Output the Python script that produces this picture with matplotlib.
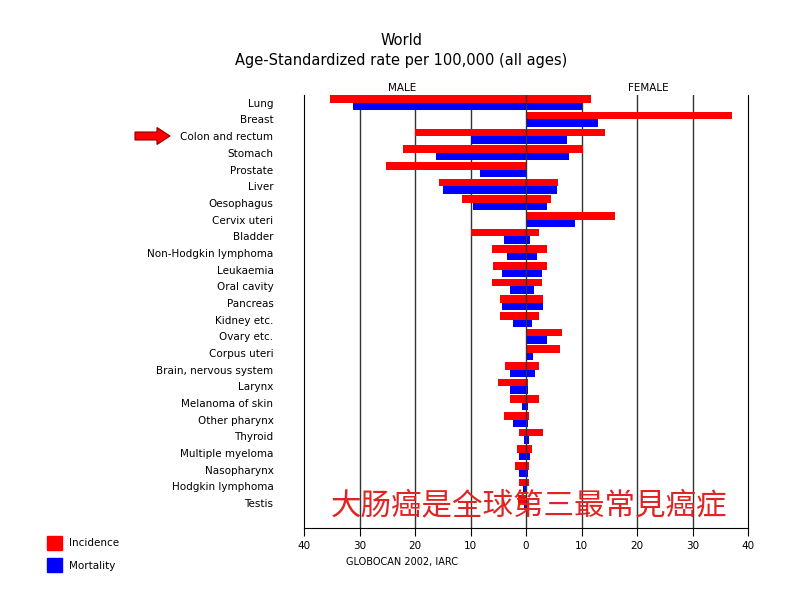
import matplotlib.pyplot as plt
import matplotlib.patches as mpatches
from matplotlib.transforms import IdentityTransform

plt.rcParams['font.family'] = ['DejaVu Sans']

sites = ["Lung", "Breast", "Colon and rectum", "Stomach", "Prostate", "Liver",
         "Oesophagus", "Cervix uteri", "Bladder", "Non-Hodgkin lymphoma",
         "Leukaemia", "Oral cavity", "Pancreas", "Kidney etc.", "Ovary etc.",
         "Corpus uteri", "Brain, nervous system", "Larynx", "Melanoma of skin",
         "Other pharynx", "Thyroid", "Multiple myeloma", "Nasopharynx",
         "Hodgkin lymphoma", "Testis"]

male_inc = [35.4, 0, 20.0, 22.1, 25.2, 15.7, 11.6, 0, 10.0, 6.1, 5.9, 6.2, 4.6,
            4.7, 0, 0, 3.8, 5.1, 2.8, 4.0, 1.3, 1.7, 1.9, 1.3, 1.5]
male_mort = [31.2, 0, 10.0, 16.3, 8.3, 14.9, 9.6, 0, 3.9, 3.5, 4.3, 2.9, 4.4,
             2.3, 0, 0, 2.8, 2.9, 0.7, 2.4, 0.4, 1.2, 1.3, 0.5, 0.4]
female_inc = [11.8, 37.2, 14.3, 10.2, 0, 5.7, 4.5, 16.0, 2.4, 3.7, 3.8, 2.9, 3.1,
              2.4, 6.4, 6.2, 2.4, 0.4, 2.4, 0.6, 3.1, 1.0, 0.5, 0.5, 0]
female_mort = [10.0, 13.0, 7.3, 7.7, 0, 5.5, 3.7, 8.8, 0.8, 2.0, 2.9, 1.4, 3.1,
               1.0, 3.7, 1.3, 1.7, 0.4, 0.4, 0.4, 0.5, 0.7, 0.4, 0.2, 0]

x_ticks = [-40, -30, -20, -10, 0, 10, 20, 30, 40]
x_tick_labels = ["40", "30", "20", "10", "0", "10", "20", "30", "40"]

RED = "#ff0000"
BLUE = "#0000ff"

fig = plt.figure(figsize=(8, 6), dpi=100)
ax = fig.add_axes([0.38, 0.12, 0.555, 0.722])

pos = list(range(len(sites)))
h = 0.45
ax.barh([p - h / 2 for p in pos], [-v for v in male_inc], height=h, color=RED, zorder=3)
ax.barh([p - h / 2 for p in pos], female_inc, height=h, color=RED, zorder=3)
ax.barh([p + h / 2 for p in pos], [-v for v in male_mort], height=h, color=BLUE, zorder=3)
ax.barh([p + h / 2 for p in pos], female_mort, height=h, color=BLUE, zorder=3)

for x in x_ticks[1:-1]:
    ax.axvline(x, color="#333333", lw=1, zorder=4 if x == 0 else 2)

ax.set_xlim(-40, 40)
ax.set_ylim(len(sites) + 0.5, -0.48)
ax.set_yticks(pos)
ax.set_yticklabels(sites, fontsize=7.5)
ax.tick_params(axis="y", length=0, pad=22)
ax.set_xticks(x_ticks)
ax.set_xticklabels(x_tick_labels, fontsize=7.5)
ax.tick_params(axis="x", length=6, direction="out")
ax.spines["top"].set_visible(False)

ax.text(-22.3, 1.016, "MALE", transform=ax.get_xaxis_transform(), ha="center", va="center", fontsize=7.5)
ax.text(22, 1.016, "FEMALE", transform=ax.get_xaxis_transform(), ha="center", va="center", fontsize=7.5)

fig.text(0.502, 0.933, "World", ha="center", va="center", fontsize=10.5)
fig.text(0.502, 0.900, "Age-Standardized rate per 100,000 (all ages)", ha="center", va="center", fontsize=10.5)
fig.text(0.502, 0.063, "GLOBOCAN 2002, IARC", ha="center", va="center", fontsize=7)

ax.text(0.6, 24.2, "大肠癌是全球第三最常見癌症", ha="center", va="center", fontsize=22,
        color="#e02424", family=["Noto Sans CJK SC", "DejaVu Sans"], fontweight="light", zorder=6)

arrow = mpatches.FancyArrow(135, 464, 35, 0, width=8, head_width=17, head_length=13,
                            length_includes_head=True, fc=RED, ec="#8b0000", lw=0.8,
                            transform=IdentityTransform())
fig.patches.append(arrow)

handles = [mpatches.Patch(color=RED), mpatches.Patch(color=BLUE)]
fig.legend(handles, ["Incidence", "Mortality"], loc="upper left",
           bbox_to_anchor=(0.054, 1 - 532 / 600), frameon=False,
           fontsize=7.5, handlelength=1.4, handleheight=1.6, labelspacing=0.85,
           handletextpad=0.7, borderaxespad=0)

fig.savefig("out.png", dpi=100)
